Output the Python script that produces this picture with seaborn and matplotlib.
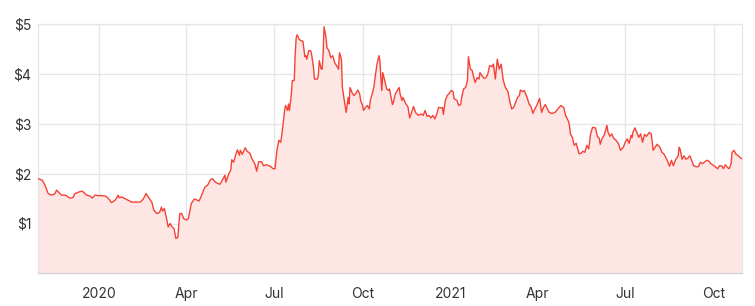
import matplotlib
matplotlib.use("Agg")
import matplotlib.pyplot as plt
import seaborn as sns
import pandas as pd
import numpy as np

start_date = "2019-10-30"
day_offsets = [
    0, 4, 7, 10, 13, 17, 19, 22, 24, 28, 33, 36, 38, 42, 45, 47, 50, 54, 56, 59,
    62, 66, 70, 73, 76, 80, 81, 83, 84, 87, 90, 94, 97, 102, 106, 109, 112, 114, 118, 120,
    123, 126, 128, 129, 131, 133, 135, 137, 139, 141, 143, 145, 147, 149, 151, 154, 156, 159, 162, 164,
    167, 169, 171, 173, 176, 179, 181, 184, 187, 189, 192, 194, 195, 198, 200, 201, 203, 205, 207, 209,
    210, 212, 215, 217, 220, 222, 225, 227, 229, 232, 234, 237, 241, 244, 246, 248, 250, 252, 254, 256,
    257, 259, 260, 261, 263, 264, 266, 267, 268, 269, 271, 273, 275, 277, 278, 279, 281, 283, 284, 286,
    287, 290, 291, 292, 294, 295, 296, 297, 299, 300, 302, 304, 306, 308, 310, 312, 313, 315, 316, 318,
    320, 322, 323, 324, 326, 328, 330, 332, 334, 335, 337, 338, 340, 342, 344, 345, 348, 349, 350, 352,
    354, 355, 356, 357, 358, 360, 362, 364, 365, 368, 369, 371, 373, 375, 376, 378, 379, 382, 384, 386,
    388, 390, 392, 395, 398, 400, 402, 404, 406, 408, 410, 412, 414, 416, 418, 420, 421, 423, 425, 427,
    429, 431, 432, 435, 437, 439, 440, 442, 444, 446, 447, 449, 451, 452, 454, 456, 458, 459, 461, 463,
    465, 467, 469, 472, 473, 475, 477, 479, 481, 483, 485, 488, 490, 492, 494, 496, 498, 500, 501, 503,
    505, 508, 510, 512, 514, 516, 518, 521, 523, 525, 527, 529, 531, 534, 537, 540, 543, 546, 548, 551,
    552, 553, 555, 557, 559, 562, 564, 566, 568, 570, 572, 574, 576, 579, 581, 583, 584, 586, 588, 591,
    592, 594, 596, 598, 600, 603, 605, 608, 610, 612, 614, 616, 617, 618, 620, 622, 624, 626, 628, 630,
    632, 635, 637, 639, 641, 643, 646, 648, 650, 652, 654, 656, 658, 660, 662, 665, 666, 667, 669, 671,
    673, 675, 677, 679, 681, 684, 686, 688, 690, 692, 695, 697, 699, 702, 704, 706, 708, 710, 712, 714,
    716, 718, 720, 721, 723, 725, 727, 729, 731,
]
prices = [
    1.90, 1.87, 1.77, 1.61, 1.57, 1.59, 1.67, 1.61, 1.57, 1.57, 1.51, 1.52, 1.60, 1.63, 1.65, 1.63, 1.57, 1.55, 1.51, 1.57,
    1.56, 1.56, 1.55, 1.50, 1.42, 1.47, 1.50, 1.57, 1.52, 1.53, 1.50, 1.46, 1.43, 1.43, 1.43, 1.49, 1.60, 1.54, 1.43, 1.27,
    1.20, 1.22, 1.33, 1.25, 1.30, 1.13, 0.93, 1.00, 0.93, 0.90, 0.70, 0.72, 1.20, 1.20, 1.10, 1.07, 1.10, 1.40, 1.49, 1.48,
    1.45, 1.53, 1.63, 1.73, 1.77, 1.88, 1.90, 1.83, 1.80, 1.79, 1.90, 1.97, 1.83, 2.00, 2.07, 2.28, 2.23, 2.37, 2.48, 2.37,
    2.47, 2.39, 2.52, 2.45, 2.41, 2.30, 2.20, 2.05, 2.24, 2.24, 2.16, 2.18, 2.15, 2.10, 2.10, 2.47, 2.67, 2.63, 2.93, 3.27,
    3.37, 3.27, 3.40, 3.27, 3.60, 3.87, 3.87, 4.40, 4.73, 4.79, 4.70, 4.67, 4.66, 4.35, 4.37, 4.30, 4.47, 4.47, 4.40, 4.13,
    3.90, 3.90, 3.97, 4.27, 4.10, 4.10, 4.40, 4.95, 4.73, 4.53, 4.47, 4.33, 4.37, 4.23, 4.17, 4.10, 4.43, 4.30, 3.73, 3.47,
    3.23, 3.53, 3.40, 3.73, 3.63, 3.57, 3.61, 3.68, 3.60, 3.47, 3.37, 3.27, 3.33, 3.37, 3.30, 3.47, 3.67, 3.77, 3.93, 4.20,
    4.37, 4.27, 3.93, 3.67, 4.03, 3.87, 3.70, 3.67, 3.70, 3.39, 3.43, 3.60, 3.67, 3.73, 3.60, 3.47, 3.53, 3.40, 3.35, 3.12,
    3.23, 3.35, 3.23, 3.17, 3.20, 3.17, 3.27, 3.15, 3.17, 3.12, 3.17, 3.10, 3.19, 3.33, 3.32, 3.33, 3.19, 3.47, 3.57, 3.61,
    3.67, 3.65, 3.51, 3.47, 3.37, 3.39, 3.53, 3.70, 3.73, 3.87, 4.35, 4.10, 4.07, 3.97, 3.83, 3.93, 3.90, 4.03, 3.97, 3.92,
    3.92, 3.99, 4.17, 4.15, 4.20, 3.90, 4.30, 4.10, 4.20, 3.90, 3.75, 3.65, 3.45, 3.30, 3.33, 3.43, 3.53, 3.57, 3.68, 3.65,
    3.67, 3.53, 3.40, 3.35, 3.21, 3.30, 3.37, 3.51, 3.23, 3.33, 3.39, 3.30, 3.23, 3.21, 3.23, 3.30, 3.37, 3.33, 3.17, 3.05,
    2.97, 2.80, 2.73, 2.57, 2.61, 2.40, 2.41, 2.45, 2.43, 2.57, 2.50, 2.80, 2.93, 2.92, 2.75, 2.71, 2.59, 2.71, 2.77, 2.97,
    2.84, 2.75, 2.80, 2.71, 2.68, 2.60, 2.47, 2.53, 2.63, 2.70, 2.61, 2.77, 2.72, 2.83, 2.92, 2.83, 2.73, 2.80, 2.63, 2.79,
    2.75, 2.83, 2.80, 2.47, 2.53, 2.59, 2.53, 2.43, 2.40, 2.33, 2.25, 2.15, 2.27, 2.16, 2.27, 2.36, 2.53, 2.49, 2.29, 2.36,
    2.29, 2.31, 2.36, 2.27, 2.16, 2.14, 2.14, 2.23, 2.20, 2.23, 2.27, 2.25, 2.20, 2.16, 2.13, 2.10, 2.16, 2.16, 2.10, 2.18,
    2.13, 2.10, 2.20, 2.43, 2.47, 2.39, 2.37, 2.33, 2.30,
]
y_ticks = [1, 2, 3, 4, 5]
y_tick_labels = ["$1", "$2", "$3", "$4", "$5"]
x_tick_dates = ["2020-01-01", "2020-04-01", "2020-07-01", "2020-10-01",
                "2021-01-01", "2021-04-01", "2021-07-01", "2021-10-01"]
x_tick_labels = ["2020", "Apr", "Jul", "Oct", "2021", "Apr", "Jul", "Oct"]

dates = pd.to_datetime(start_date) + pd.to_timedelta(day_offsets, unit="D")
df = pd.DataFrame({"date": dates, "price": prices})

sns.set_theme(style="white")
plt.rcParams["font.family"] = ["Inter", "DejaVu Sans"]

LINE = "#f44336"
FILL = "#fde6e4"
GRID = "#e6e6e6"
TEXT = "#333333"

fig = plt.figure(figsize=(7.55, 3.06), dpi=100)
ax = fig.add_axes([38.3 / 755, 1 - 273.3 / 306, (741.7 - 38.3) / 755, (273.3 - 24.3) / 306])

ax.fill_between(df["date"], df["price"], 0, color=FILL, linewidth=0, zorder=1)
sns.lineplot(data=df, x="date", y="price", ax=ax, color=LINE, linewidth=1.0, zorder=3)

ax.set_xlim(df["date"].iloc[0], df["date"].iloc[-1])
ax.set_ylim(0, 5)
ax.set_yticks(y_ticks)
ax.set_yticklabels(y_tick_labels)
ax.set_xticks(pd.to_datetime(x_tick_dates))
ax.set_xticklabels(x_tick_labels)
ax.set_xlabel("")
ax.set_ylabel("")

ax.grid(True, color=GRID, linewidth=0.9, zorder=0)
ax.set_axisbelow(True)
for side in ["left", "right", "top"]:
    ax.spines[side].set_color(GRID)
    ax.spines[side].set_linewidth(0.9)
ax.spines["bottom"].set_color("#d6d6d6")
ax.spines["bottom"].set_linewidth(1.0)

ax.tick_params(axis="both", length=0, labelsize=10, colors=TEXT)
ax.tick_params(axis="y", pad=5)
ax.tick_params(axis="x", pad=10)

fig.savefig("out.png", dpi=100)
